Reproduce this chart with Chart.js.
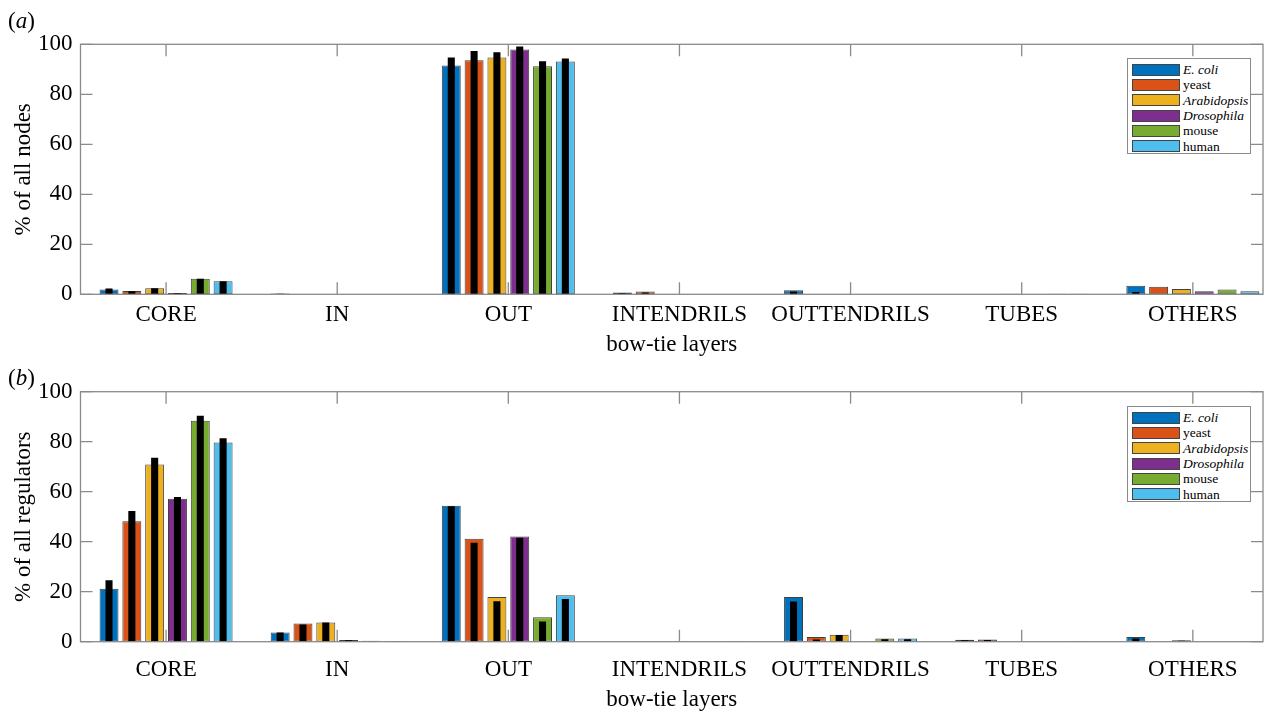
<!DOCTYPE html>
<html>
<head>
<meta charset="utf-8">
<script src="https://cdn.jsdelivr.net/npm/chart.js@4.4.1/dist/chart.umd.min.js"></script>
<style>
  html, body { margin: 0; padding: 0; background: #fff; width: 1280px; height: 711px; overflow: hidden; }
  body { position: relative; font-family: "Liberation Serif", "Times New Roman", serif; }
  .panel { position: absolute; left: 0; width: 1280px; }
  #pa { top: 0; height: 360px; }
  #pb { top: 350px; height: 370px; }
  .plabel { position: absolute; left: 8px; font-size: 23px; line-height: 27px; color: #000; }
  .legend { position: absolute; left: 1127px; width: 124px; border: 1px solid #8a8a8a; background: #fff; box-sizing: border-box; padding: 3px 0 0 4px; }
  .legend .row { height: 15.3px; display: flex; align-items: center; font-size: 13.5px; line-height: 13px; color: #000; white-space: nowrap; }
  .legend .sw { width: 46px; height: 10px; border: 1px solid #444; margin-right: 3px; flex: none; }
</style>
</head>
<body>
<div class="panel" id="pa"><canvas id="ca"></canvas></div>
<div class="panel" id="pb"><canvas id="cb"></canvas></div>
<div class="plabel" style="top:7px;">(<i>a</i>)</div>
<div class="plabel" style="top:364px;">(<i>b</i>)</div>
<div class="legend" id="lga" style="top:58px;height:96px;"></div>
<div class="legend" id="lgb" style="top:406px;height:96px;"></div>
<script>
const categories = ['CORE', 'IN', 'OUT', 'INTENDRILS', 'OUTTENDRILS', 'TUBES', 'OTHERS'];
const species = ['E. coli', 'yeast', 'Arabidopsis', 'Drosophila', 'mouse', 'human'];
const italicSpecies = [true, false, true, true, false, false];
const colors = ['#0072BD', '#D95319', '#EDB120', '#7E2F8E', '#77AC30', '#4DBEEE'];
const yTicks = [0, 20, 40, 60, 80, 100];

// panel (a): % of all nodes
const nodesEcoli       = [1.9, 0.3, 91.5, 0.7, 1.6, 0,   3.4];
const nodesYeast       = [1.3, 0.15, 93.6, 1.1, 0,  0,   3.0];
const nodesArabidopsis = [2.4, 0.15, 94.7, 0,   0,  0.2, 2.1];
const nodesDrosophila  = [0.5, 0,   97.9, 0,   0,   0,   1.2];
const nodesMouse       = [6.2, 0,   91.2, 0,   0,   0.2, 1.9];
const nodesHuman       = [5.2, 0,   93.1, 0,   0,   0.2, 1.2];
// panel (a): black overlay bars
const nodesEcoliB       = [2.3, 0.2, 94.7, 0.4, 1.1, 0,   0.9];
const nodesYeastB       = [1.2, 0.1, 97.3, 0.7, 0,   0,   0];
const nodesArabidopsisB = [2.4, 0.1, 96.8, 0,   0,   0.1, 0];
const nodesDrosophilaB  = [0.5, 0,   99.1, 0,   0,   0,   0];
const nodesMouseB       = [6.2, 0,   93.2, 0,   0,   0,   0];
const nodesHumanB       = [5.2, 0,   94.3, 0,   0,   0,   0];

// panel (b): % of all regulators
const regEcoli       = [21.2, 3.7, 54.4, 0,   17.9, 0.8, 1.9];
const regYeast       = [48.2, 7.3, 41.2, 0,   1.9,  0.9, 0];
const regArabidopsis = [70.9, 7.7, 17.9, 0,   2.8,  0,   0.6];
const regDrosophila  = [57.2, 0.7, 42.1, 0,   0,    0,   0];
const regMouse       = [88.4, 0.4, 9.8,  0,   1.3,  0,   0];
const regHuman       = [79.7, 0.3, 18.6, 0.2, 1.3,  0.2, 0.2];
// panel (b): black overlay bars
const regEcoliB       = [24.6, 3.7, 54.2, 0, 16.1, 0.6, 1.3];
const regYeastB       = [52.3, 6.9, 39.6, 0, 0.9,  0.7, 0];
const regArabidopsisB = [73.6, 7.7, 16.2, 0, 2.7,  0,   0.4];
const regDrosophilaB  = [57.9, 0.6, 41.6, 0, 0,    0,   0];
const regMouseB       = [90.4, 0.3, 8.1,  0, 1.0,  0,   0];
const regHumanB       = [81.4, 0.2, 17.1, 0, 1.0,  0,   0];

const FONT = { family: '"Liberation Serif", "Times New Roman", serif', size: 23 };
const FRAME = '#8a8a8a';

const innerTicks = {
  id: 'innerTicks',
  afterDatasetsDraw(chart) {
    const { ctx, chartArea: a, scales } = chart;
    const L = 12;
    ctx.save();
    ctx.strokeStyle = FRAME;
    ctx.lineWidth = 1.3;
    ctx.beginPath();
    scales.y.ticks.forEach(t => {
      const py = scales.y.getPixelForValue(t.value);
      ctx.moveTo(a.left, py); ctx.lineTo(a.left + L, py);
      ctx.moveTo(a.right, py); ctx.lineTo(a.right - L, py);
    });
    scales.x.ticks.forEach(t => {
      const px = scales.x.getPixelForValue(t.value);
      ctx.moveTo(px, a.bottom); ctx.lineTo(px, a.bottom - L);
      ctx.moveTo(px, a.top); ctx.lineTo(px, a.top + L);
    });
    ctx.stroke();
    ctx.strokeRect(a.left, a.top, a.right - a.left, a.bottom - a.top);
    ctx.restore();
  }
};

function makeChart(canvasId, series, blackSeries, yTitle, lay) {
  const datasets = [];
  series.forEach((vals, i) => {
    datasets.push({
      label: species[i],
      data: vals.map((v, j) => ({ x: j + 1, y: v })),
      backgroundColor: colors[i],
      borderColor: '#404040',
      borderWidth: 1,
      borderSkipped: false,
      stack: 's' + i,
      order: 1,
      barPercentage: 0.83,
      categoryPercentage: 0.8
    });
  });
  blackSeries.forEach((vals, i) => {
    datasets.push({
      label: species[i] + ' (black)',
      data: vals.map((v, j) => ({ x: j + 1, y: v })),
      backgroundColor: '#000',
      borderWidth: 0,
      stack: 's' + i,
      order: 0,
      barPercentage: 0.31,
      categoryPercentage: 0.8
    });
  });
  return new Chart(document.getElementById(canvasId), {
    type: 'bar',
    data: { datasets },
    plugins: [innerTicks],
    options: {
      responsive: true,
      maintainAspectRatio: false,
      animation: false,
      layout: { padding: { top: lay.top, right: 17, left: 0, bottom: 0 } },
      plugins: { legend: { display: false }, tooltip: { enabled: false } },
      scales: {
        x: {
          type: 'linear',
          offset: false,
          min: 0.5,
          max: 7.41,
          afterBuildTicks: (s) => { s.ticks = categories.map((c, i) => ({ value: i + 1 })); },
          afterFit: (s) => { s.height = lay.xh; s.paddingLeft = 0; s.paddingRight = 0; },
          grid: { display: false, drawTicks: false },
          border: { display: false },
          ticks: {
            autoSkip: false, maxRotation: 0, minRotation: 0,
            padding: lay.tickPad,
            font: FONT, color: '#000',
            callback: (v) => categories[Math.round(v) - 1]
          },
          title: { display: true, text: 'bow-tie layers', font: FONT, color: '#000', padding: { top: 0, bottom: lay.titlePad } }
        },
        y: {
          min: 0, max: 100,
          stacked: false,
          afterBuildTicks: (s) => { s.ticks = yTicks.map(v => ({ value: v })); },
          afterFit: (s) => { s.width = 80.5; },
          grid: { display: false, drawTicks: false },
          border: { display: false },
          ticks: { padding: 8, font: FONT, color: '#000' },
          title: { display: true, text: yTitle, font: FONT, color: '#000', padding: { top: 10, bottom: 0 } }
        }
      }
    }
  });
}

makeChart('ca',
  [nodesEcoli, nodesYeast, nodesArabidopsis, nodesDrosophila, nodesMouse, nodesHuman],
  [nodesEcoliB, nodesYeastB, nodesArabidopsisB, nodesDrosophilaB, nodesMouseB, nodesHumanB],
  '% of all nodes', { top: 44.3, xh: 65.7, tickPad: 6.6, titlePad: 1.2 });
makeChart('cb',
  [regEcoli, regYeast, regArabidopsis, regDrosophila, regMouse, regHuman],
  [regEcoliB, regYeastB, regArabidopsisB, regDrosophilaB, regMouseB, regHumanB],
  '% of all regulators', { top: 41.7, xh: 78.3, tickPad: 14, titlePad: 6.2 });

function buildLegend(id) {
  const el = document.getElementById(id);
  species.forEach((s, i) => {
    const row = document.createElement('div');
    row.className = 'row';
    const sw = document.createElement('span');
    sw.className = 'sw';
    sw.style.background = colors[i];
    const tx = document.createElement('span');
    tx.textContent = s;
    if (italicSpecies[i]) tx.style.fontStyle = 'italic';
    row.appendChild(sw); row.appendChild(tx);
    el.appendChild(row);
  });
}
buildLegend('lga');
buildLegend('lgb');
</script>
</body>
</html>
